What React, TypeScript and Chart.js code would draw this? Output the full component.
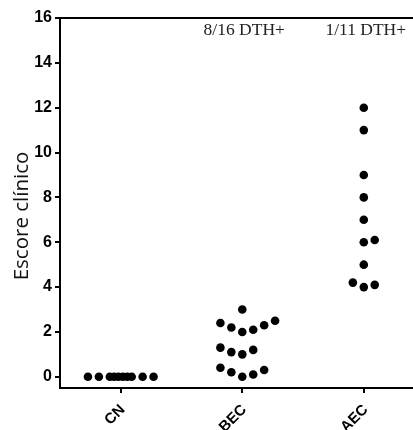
import { useEffect, useRef } from "react";
import { Chart, registerables } from "chart.js";

Chart.register(...registerables);

// Groups along the x axis and the DTH+ counts written above them
const groups = ["CN", "BEC", "AEC"];
const dthLabels = ["", "8/16 DTH+", "1/11 DTH+"];
const yTickValues = [0, 2, 4, 6, 8, 10, 12, 14, 16];

// Clinical score per animal, with the horizontal spread (in group units) of the dot plot
const cnScores = [0, 0, 0, 0, 0, 0, 0, 0, 0, 0];
const cnSpread = [-0.27, -0.18, -0.09, -0.054, -0.018, 0.018, 0.054, 0.09, 0.18, 0.27];

const becScores = [3.0, 2.4, 2.2, 2.0, 2.1, 2.3, 2.5, 1.3, 1.1, 1.0, 1.2, 0.4, 0.2, 0.0, 0.1, 0.3];
const becSpread = [0, -0.18, -0.09, 0, 0.09, 0.18, 0.27, -0.18, -0.09, 0, 0.09, -0.18, -0.09, 0, 0.09, 0.18];

const aecScores = [12, 11, 9, 8, 7, 6, 6.1, 5, 4.2, 4.0, 4.1];
const aecSpread = [0, 0, 0, 0, 0, 0, 0.09, 0, -0.09, 0, 0.09];

const toPoints = (scores: number[], spread: number[], groupIndex: number) =>
  scores.map((y, i) => ({ x: groupIndex + spread[i], y }));

const SANS = '"Liberation Sans", Arial, sans-serif';

const framePlugin = {
  id: "frameAndLabels",
  afterDraw(chart: any) {
    const { ctx, chartArea, scales } = chart;
    ctx.save();
    // top edge of the frame
    ctx.strokeStyle = "#000";
    ctx.lineWidth = 2;
    ctx.beginPath();
    ctx.moveTo(chartArea.left - 1, chartArea.top);
    ctx.lineTo(chartArea.right, chartArea.top);
    ctx.stroke();

    // DTH+ counts above each group
    ctx.font = '17.5px "Liberation Serif", "Times New Roman", serif';
    ctx.fillStyle = "#222";
    ctx.textAlign = "center";
    ctx.textBaseline = "alphabetic";
    dthLabels.forEach((t, i) => {
      if (t) ctx.fillText(t, scales.x.getPixelForValue(i) + 2, chartArea.top + 16.5);
    });

    // y axis title
    ctx.font = '20.5px "Open Sans", sans-serif';
    ctx.fillStyle = "#111";
    ctx.translate(28, (chartArea.top + chartArea.bottom) / 2 + 13);
    ctx.rotate(-Math.PI / 2);
    ctx.textAlign = "center";
    ctx.fillText("Escore clínico", 0, 0);
    ctx.restore();
  },
};

export default function App() {
  const canvasRef = useRef<HTMLCanvasElement | null>(null);

  useEffect(() => {
    if (!canvasRef.current) return;
    const dot = {
      backgroundColor: "#000",
      borderWidth: 0,
      pointRadius: 4.3,
      pointHoverRadius: 4.3,
    };
    const chart = new Chart(canvasRef.current, {
      type: "scatter",
      data: {
        datasets: [
          { label: "CN", data: toPoints(cnScores, cnSpread, 0), ...dot },
          { label: "BEC", data: toPoints(becScores, becSpread, 1), ...dot },
          { label: "AEC", data: toPoints(aecScores, aecSpread, 2), ...dot },
        ],
      },
      options: {
        animation: false,
        responsive: false,
        devicePixelRatio: 1,
        layout: { autoPadding: false, padding: { top: 18, right: 0, left: 0, bottom: 0 } },
        plugins: { legend: { display: false }, tooltip: { enabled: false } },
        scales: {
          x: {
            type: "linear",
            min: -0.5,
            max: 2.405,
            afterBuildTicks: (s: any) => {
              s.ticks = groups.map((_, i) => ({ value: i }));
            },
            afterFit: (s: any) => {
              s.height = 42;
              s.paddingLeft = 0;
              s.paddingRight = 0;
            },
            ticks: {
              autoSkip: false,
              minRotation: 45,
              maxRotation: 45,
              padding: 8,
              labelOffset: 2,
              color: "#000",
              font: { family: SANS, weight: "bold", size: 15 },
              callback: (v: any) => groups[v] ?? "",
            },
            grid: {
              drawOnChartArea: false,
              drawTicks: true,
              tickLength: 5,
              color: "#000",
              lineWidth: 2,
            },
            border: { display: true, color: "#000", width: 2 },
          },
          y: {
            type: "linear",
            min: -0.5,
            max: 16,
            afterBuildTicks: (s: any) => {
              s.ticks = yTickValues.map((value) => ({ value }));
            },
            afterFit: (s: any) => {
              s.width = 60;
              s.paddingTop = 0;
              s.paddingBottom = 0;
            },
            ticks: {
              padding: 3,
              color: "#000",
              font: { family: SANS, weight: "bold", size: 16 },
            },
            grid: {
              drawOnChartArea: false,
              drawTicks: true,
              tickLength: 5,
              color: "#000",
              lineWidth: 2,
            },
            border: { display: true, color: "#000", width: 2 },
          },
        },
      },
      plugins: [framePlugin],
    } as any);
    return () => chart.destroy();
  }, []);

  return (
    <div style={{ position: "fixed", left: 0, top: 0, width: 413, height: 430, background: "#fff" }}>
      <canvas ref={canvasRef} width={413} height={430} />
    </div>
  );
}
